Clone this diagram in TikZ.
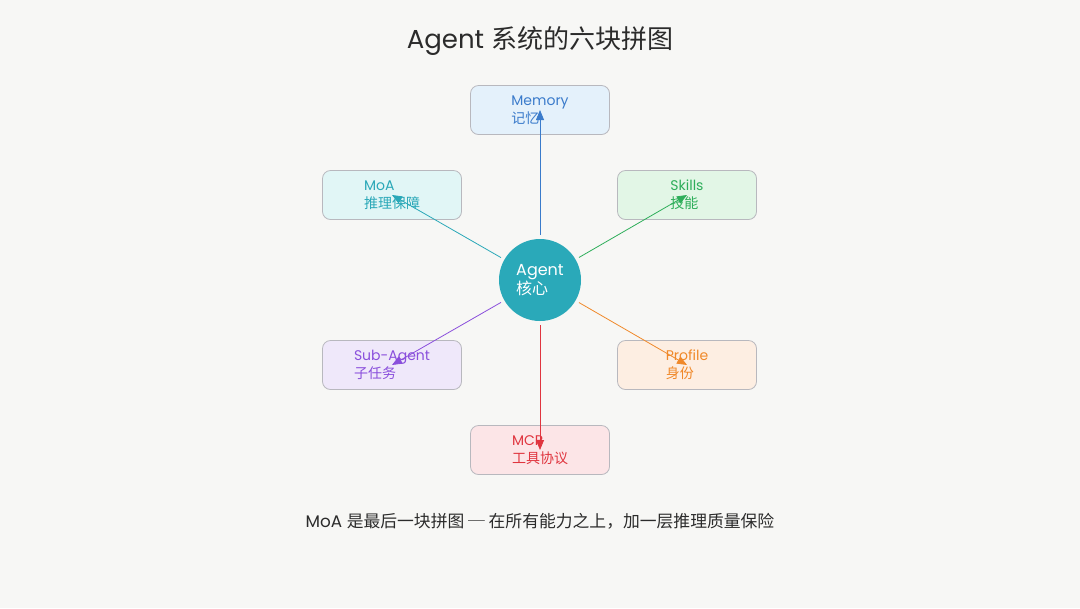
\documentclass[tikz,border=0pt]{standalone}
\usepackage{fontspec}
\setmainfont{Poppins}
\newfontfamily\cjk{Noto Sans CJK SC}
\usepackage{xcolor}
\usetikzlibrary{arrows.meta}
\definecolor{bg}{HTML}{F7F7F5}
\definecolor{ink}{HTML}{2B2B2B}
\definecolor{boxline}{HTML}{B8B8BE}
\definecolor{hubc}{HTML}{2AA9B9}
\definecolor{memc}{HTML}{3A7BCB}
\definecolor{memf}{HTML}{E4F1FB}
\definecolor{moac}{HTML}{2AA8B8}
\definecolor{moaf}{HTML}{E1F6F6}
\definecolor{skic}{HTML}{2EAE5A}
\definecolor{skif}{HTML}{E2F6E6}
\definecolor{subc}{HTML}{8A4FDC}
\definecolor{subf}{HTML}{EFE8FA}
\definecolor{proc}{HTML}{F0892A}
\definecolor{prof}{HTML}{FDEEE2}
\definecolor{mcpc}{HTML}{E0353F}
\definecolor{mcpf}{HTML}{FCE5E7}

\begin{document}
\begin{tikzpicture}[x=0.75pt, y=-0.75pt,
   box/.style = {draw=boxline, line width=0.6pt, rounded corners=6pt,
                 minimum width=104.25pt, minimum height=36.75pt,
                 inner sep=0pt, align=left,
                 font={\fontsize{10.5}{13.5}\selectfont}},
   hub/.style = {circle, fill=hubc, minimum size=61.5pt, inner sep=0pt,
                 outer sep=3pt, text=white, align=left,
                 font={\fontsize{12}{14.25}\selectfont}},
   arr/.style = {-{Triangle[length=7.5pt, width=6pt]}, line width=0.6pt}
                    ]
\useasboundingbox[fill=bg] (0,0) rectangle (1080,608);

\node[text=ink, font={\fontsize{19.5}{24}\selectfont}] (title) at (540,41)
      {Agent {\cjk 系统的六块拼图}};

\node[hub] (agent) at (540,280) {Agent\\{\cjk 核心}};

\node[box, fill=memf, text=memc] (mem) at (540,110) {Memory\\{\cjk 记忆}};
\node[box, fill=moaf, text=moac] (moa) at (392,195) {MoA\\{\cjk 推理保障}};
\node[box, fill=skif, text=skic] (ski) at (687,195) {Skills\\{\cjk 技能}};
\node[box, fill=subf, text=subc] (sub) at (392,365) {Sub-Agent\\{\cjk 子任务}};
\node[box, fill=prof, text=proc] (pro) at (687,365) {Profile\\{\cjk 身份}};
\node[box, fill=mcpf, text=mcpc] (mcp) at (540,450) {MCP\\{\cjk 工具协议}};

\draw[arr, memc] (agent) -- (mem.center);
\draw[arr, moac] (agent) -- (moa.center);
\draw[arr, skic] (agent) -- (ski.center);
\draw[arr, subc] (agent) -- (sub.center);
\draw[arr, proc] (agent) -- (pro.center);
\draw[arr, mcpc] (agent) -- (mcp.center);

\node[text=ink, font={\fontsize{12.6}{15}\selectfont}] (note) at (540,521)
      {MoA {\cjk 是最后一块拼图 ─ 在所有能力之上，加一层推理质量保险}};
\end{tikzpicture}
\end{document}
